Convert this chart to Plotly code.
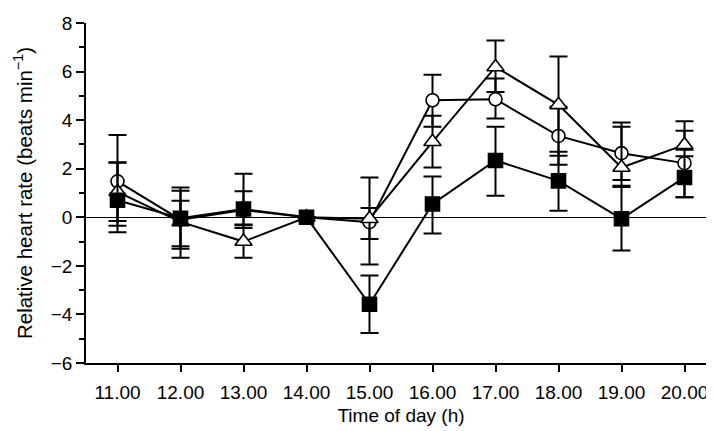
import plotly.graph_objects as go

hours = [11, 12, 13, 14, 15, 16, 17, 18, 19, 20]
tick_labels = ["11.00", "12.00", "13.00", "14.00", "15.00", "16.00", "17.00", "18.00", "19.00", "20.00"]

square_vals = [0.70, -0.04, 0.34, 0.0, -3.58, 0.55, 2.34, 1.50, -0.06, 1.64]
square_up = [1.57, 1.27, 1.45, 0.0, 1.18, 1.13, 1.39, 1.20, 1.31, 0.87]
square_dn = [1.05, 1.15, 0.78, 0.0, 1.18, 1.22, 1.45, 1.23, 1.31, 0.82]

circle_vals = [1.48, -0.10, 0.30, 0.0, -0.20, 4.82, 4.86, 3.35, 2.64, 2.23]
circle_up = [1.91, 1.19, 0.77, 0.0, 1.84, 1.05, 0.85, 1.20, 1.26, 1.33]
circle_dn = [2.10, 1.20, 0.60, 0.0, 1.74, 1.09, 0.79, 1.19, 1.10, 1.40]

tri_vals = [1.05, -0.19, -1.00, 0.0, -0.06, 3.11, 6.19, 4.63, 2.05, 2.98]
tri_up = [1.20, 0.87, 0.67, 0.0, 0.44, 1.07, 1.09, 1.99, 1.68, 0.97]
tri_dn = [1.20, 1.48, 0.67, 0.0, 0.83, 1.06, 1.03, 2.10, 0.75, 0.20]

fig = go.Figure()

def add(vals, up, dn, symbol, fill, size):
    fig.add_trace(go.Scatter(
        x=hours, y=vals, mode="lines+markers",
        line=dict(color="black", width=2),
        marker=dict(symbol=symbol, size=size, color=fill,
                    line=dict(color="black", width=1.6)),
        error_y=dict(type="data", symmetric=False, array=up, arrayminus=dn,
                     color="black", thickness=2, width=9),
        showlegend=False,
    ))

add(circle_vals, circle_up, circle_dn, "circle", "white", 13)
add(tri_vals, tri_up, tri_dn, "triangle-up", "white", 15)
add(square_vals, square_up, square_dn, "square", "black", 14)

font = "Liberation Sans, Arial, Helvetica, sans-serif"

fig.update_layout(
    width=714, height=431,
    margin=dict(l=78, r=6, t=15, b=76, autoexpand=False),
    paper_bgcolor="white", plot_bgcolor="white",
    font=dict(family=font, size=19, color="black"),
    xaxis=dict(
        range=[10.5, 20.5], tickmode="array", tickvals=hours, ticktext=tick_labels,
        ticks="outside", ticklen=7, tickwidth=1.5, tickcolor="black",
        ticklabelstandoff=4,
        showline=True, linecolor="black", linewidth=1.5, showgrid=False, zeroline=False,
        title=dict(text="Time of day (h)", font=dict(size=19), standoff=7),
        tickfont=dict(size=19),
    ),
    yaxis=dict(
        range=[-6, 8], tickmode="linear", tick0=-6, dtick=2,
        ticks="outside", ticklen=8, tickwidth=1.5, tickcolor="black",
        minor=dict(ticks="outside", ticklen=5, tickwidth=1.5, tickcolor="black", dtick=1, tick0=-6, showgrid=False),
        showline=True, linecolor="black", linewidth=1.5, showgrid=False,
        zeroline=True, zerolinecolor="black", zerolinewidth=1,
        title=dict(text="Relative heart rate (beats min<sup>−1</sup>)", font=dict(size=20.5), standoff=13),
        tickfont=dict(size=19),
    ),
)

fig.write_html("out.html")
